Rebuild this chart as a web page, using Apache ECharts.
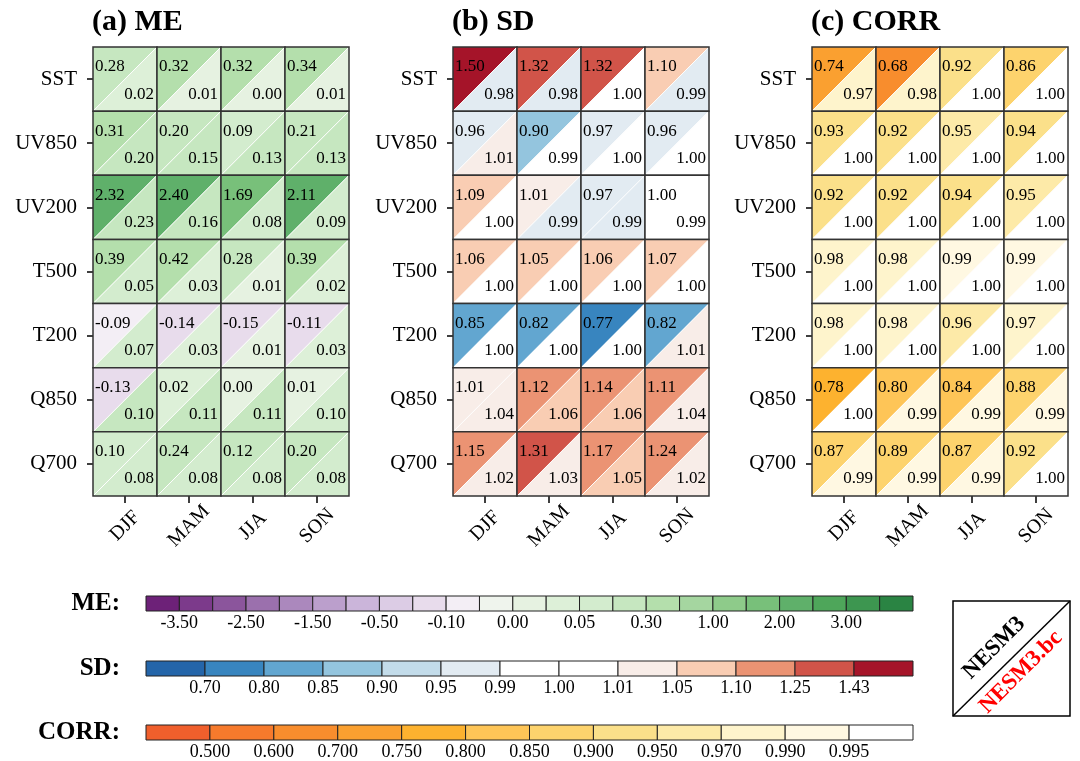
<!DOCTYPE html>
<html>
<head>
<meta charset="utf-8">
<script src="https://cdn.jsdelivr.net/npm/echarts@6/dist/echarts.min.js"></script>
<style>
  html, body { margin: 0; padding: 0; background: #fff; }
  #main { width: 1080px; height: 761px; }
</style>
</head>
<body>
<div id="main"></div>
<script>
const seasons = ['DJF', 'MAM', 'JJA', 'SON']
const variables = ['SST', 'UV850', 'UV200', 'T500', 'T200', 'Q850', 'Q700']

// upper-left triangle = NESM3, lower-right triangle = NESM3.bc
// (a few values carry a third decimal where the cell colour shows which side of a level it sits on)
const meModel = [
  [0.28, 0.32, 0.32, 0.34],
  [0.31, 0.20, 0.09, 0.21],
  [2.32, 2.40, 1.69, 2.11],
  [0.39, 0.42, 0.28, 0.39],
  [-0.09, -0.14, -0.15, -0.11],
  [-0.13, 0.02, 0.00, 0.01],
  [0.098, 0.24, 0.12, 0.20]
]
const meBc = [
  [0.02, 0.01, 0.00, 0.01],
  [0.20, 0.15, 0.13, 0.13],
  [0.23, 0.16, 0.08, 0.09],
  [0.05, 0.03, 0.01, 0.02],
  [0.07, 0.03, 0.01, 0.03],
  [0.10, 0.11, 0.11, 0.098],
  [0.08, 0.08, 0.08, 0.08]
]
const sdModel = [
  [1.50, 1.32, 1.32, 1.098],
  [0.96, 0.898, 0.97, 0.96],
  [1.09, 1.01, 0.97, 1.00],
  [1.06, 1.05, 1.06, 1.07],
  [0.848, 0.82, 0.77, 0.82],
  [1.01, 1.12, 1.14, 1.11],
  [1.15, 1.31, 1.17, 1.24]
]
const sdBc = [
  [0.98, 0.98, 1.00, 0.988],
  [1.01, 0.991, 1.00, 1.00],
  [1.00, 0.988, 0.988, 0.991],
  [1.00, 1.00, 1.00, 1.00],
  [1.00, 1.00, 1.00, 1.01],
  [1.04, 1.06, 1.06, 1.04],
  [1.02, 1.03, 1.05, 1.02]
]
const corrModel = [
  [0.74, 0.68, 0.92, 0.86],
  [0.93, 0.92, 0.95, 0.94],
  [0.92, 0.92, 0.94, 0.95],
  [0.98, 0.98, 0.99, 0.99],
  [0.98, 0.98, 0.96, 0.97],
  [0.78, 0.80, 0.84, 0.88],
  [0.87, 0.89, 0.87, 0.92]
]
const corrBc = [
  [0.97, 0.98, 1.00, 1.00],
  [1.00, 1.00, 1.00, 1.00],
  [1.00, 1.00, 1.00, 1.00],
  [1.00, 1.00, 1.00, 1.00],
  [1.00, 1.00, 1.00, 1.00],
  [1.00, 0.99, 0.99, 0.99],
  [0.99, 0.99, 0.99, 1.00]
]

// colour bar levels (bin edges)
const meLevels = [-3.5, -3.0, -2.5, -2.0, -1.5, -1.0, -0.5, -0.3, -0.1, -0.05, 0.0, 0.02, 0.05, 0.1, 0.3, 0.5, 1.0, 1.5, 2.0, 2.5, 3.0, 3.5]
const sdLevels = [0.70, 0.80, 0.85, 0.90, 0.95, 0.99, 1.00, 1.01, 1.05, 1.10, 1.25, 1.43]
const corrLevels = [0.500, 0.600, 0.700, 0.750, 0.800, 0.850, 0.900, 0.950, 0.970, 0.990, 0.995]

const meColors = ['#6d2178', '#7c3a8b', '#8b559c', '#9b70ad', '#ab88bd', '#bb9fcc', '#cbb5da', '#dccce5', '#e8dcec', '#f3eef5',
  '#eff4ed', '#e6f2e1', '#ddf0d8', '#d3ecce', '#c6e7c0', '#b4dfac', '#a5d6a0', '#8ecb8a', '#78c07a', '#5fb06a', '#4ea65a', '#3d9650', '#2a8443']
const sdColors = ['#2465a9', '#3885bf', '#62a6d0', '#94c5de', '#c3dcea', '#e2ebf2', '#ffffff', '#ffffff', '#f8ede8', '#f9cdb3', '#eb9373', '#d15449', '#a51429']
const corrColors = ['#f05f2c', '#f67a2c', '#f88d2d', '#faa030', '#fdb22f', '#fec557', '#fdd36d', '#fbe08a', '#fdeaa8', '#fef4cc', '#fff8e2', '#ffffff']

const FONT = '"Liberation Serif", "Times New Roman", serif'

const binColor = (v, levels, colors) => {
  let i = 0
  while (i < levels.length && v >= levels[i] - 1e-9) i++
  return colors[i]
}

const cellData = (upper, lower) => {
  const out = []
  upper.forEach((row, r) => {
    row.forEach((v, c) => {
      out.push([c, r, v, lower[r][c]])
    })
  })
  return out
}

const cellRenderer = (levels, colors) => (params, api) => {
  const c = api.coord([api.value(0), api.value(1)])
  const s = api.size([1, 1])
  const w = Math.abs(s[0])
  const h = Math.abs(s[1])
  const x0 = c[0] - w / 2
  const x1 = c[0] + w / 2
  const y0 = c[1] - h / 2
  const y1 = c[1] + h / 2
  const up = api.value(2)
  const lo = api.value(3)
  return {
    type: 'group',
    children: [
      { type: 'polygon', shape: { points: [[x0, y0], [x1, y0], [x0, y1]] }, style: { fill: binColor(up, levels, colors) } },
      { type: 'polygon', shape: { points: [[x1, y0], [x1, y1], [x0, y1]] }, style: { fill: binColor(lo, levels, colors) } },
      { type: 'line', shape: { x1: x0, y1: y1, x2: x1, y2: y0 }, style: { stroke: '#fff', lineWidth: 1 } },
      { type: 'rect', shape: { x: x0, y: y0, width: w, height: h }, style: { fill: 'none', stroke: '#333', lineWidth: 1.5 } },
      { type: 'text', x: x0 + 2, y: y0 + 20, style: { text: up.toFixed(2), font: '17px ' + FONT, fill: '#000', align: 'left', verticalAlign: 'middle' } },
      { type: 'text', x: x1 - 3, y: y1 - 17, style: { text: lo.toFixed(2), font: '17px ' + FONT, fill: '#000', align: 'right', verticalAlign: 'middle' } }
    ]
  }
}

const barRenderer = (colors) => (params, api) => {
  const i = api.value(0)
  const p0 = api.coord([i, 1])
  const p1 = api.coord([i + 1, 0])
  return {
    type: 'rect',
    shape: { x: p0[0], y: p0[1], width: p1[0] - p0[0], height: p1[1] - p0[1] },
    style: { fill: colors[i], stroke: '#222', lineWidth: 1 }
  }
}

const panelLefts = [93, 453, 812]
const barTops = [596, 661, 725]

const grids = panelLefts.map(l => ({ left: l, top: 47, width: 256, height: 449 }))
  .concat(barTops.map(t => ({ left: 146, top: t, width: 767, height: 15 })))

const xAxes = [0, 1, 2].map(i => ({
  type: 'category',
  gridIndex: i,
  data: seasons,
  axisLine: { show: false },
  axisTick: { show: true, alignWithLabel: true, length: 7, interval: 0, lineStyle: { color: '#000', width: 1.5 } },
  axisLabel: { interval: 0, rotate: 45, margin: 30, align: 'center', verticalAlign: 'middle', fontSize: 20, fontFamily: FONT, color: '#000' },
  splitLine: { show: false }
}))
const yAxes = [0, 1, 2].map(i => ({
  type: 'category',
  gridIndex: i,
  data: variables,
  inverse: true,
  axisLine: { show: false },
  axisTick: { show: true, alignWithLabel: true, length: 6, interval: 0, lineStyle: { color: '#000', width: 1.5 } },
  axisLabel: { interval: 0, margin: 16, fontSize: 21, fontFamily: FONT, color: '#000' },
  splitLine: { show: false }
}))

const barSpecs = [
  { levels: meLevels, colors: meColors, fmt: (v, k) => (k % 2 === 0 ? v.toFixed(2) : '') },
  { levels: sdLevels, colors: sdColors, fmt: v => v.toFixed(2) },
  { levels: corrLevels, colors: corrColors, fmt: v => v.toFixed(3) }
]
barSpecs.forEach((b, j) => {
  xAxes.push({
    type: 'value',
    gridIndex: 3 + j,
    min: 0,
    max: b.colors.length,
    interval: 1,
    axisLine: { show: false },
    axisTick: { show: false },
    splitLine: { show: false },
    axisLabel: {
      margin: 3,
      fontSize: 18,
      fontFamily: FONT,
      color: '#000',
      formatter: function (v) {
        const k = Math.round(v) - 1
        if (k < 0 || k >= b.levels.length) return ''
        return b.fmt(b.levels[k], k)
      }
    }
  })
  yAxes.push({ type: 'value', gridIndex: 3 + j, min: 0, max: 1, show: false })
})

const series = [
  { type: 'custom', xAxisIndex: 0, yAxisIndex: 0, renderItem: cellRenderer(meLevels, meColors), data: cellData(meModel, meBc) },
  { type: 'custom', xAxisIndex: 1, yAxisIndex: 1, renderItem: cellRenderer(sdLevels, sdColors), data: cellData(sdModel, sdBc) },
  { type: 'custom', xAxisIndex: 2, yAxisIndex: 2, renderItem: cellRenderer(corrLevels, corrColors), data: cellData(corrModel, corrBc) }
]
barSpecs.forEach((b, j) => {
  series.push({
    type: 'custom',
    xAxisIndex: 3 + j,
    yAxisIndex: 3 + j,
    renderItem: barRenderer(b.colors),
    data: b.colors.map((c, i) => [i])
  })
})

const titleText = (txt, x) => ({
  type: 'text', x: x, y: 22,
  style: { text: txt, font: 'bold 30px ' + FONT, fill: '#000', align: 'left', verticalAlign: 'middle' }
})
const barLabel = (txt, y) => ({
  type: 'text', x: 120, y: y,
  style: { text: txt, font: 'bold 25px ' + FONT, fill: '#000', align: 'right', verticalAlign: 'middle' }
})

const option = {
  backgroundColor: '#fff',
  animation: false,
  grid: grids,
  xAxis: xAxes,
  yAxis: yAxes,
  series: series,
  graphic: [
    titleText('(a) ME', 92),
    titleText('(b) SD', 452),
    titleText('(c) CORR', 811),
    barLabel('ME:', 604),
    barLabel('SD:', 669),
    barLabel('CORR:', 733),
    {
      type: 'group',
      children: [
        { type: 'rect', shape: { x: 953, y: 601, width: 117, height: 115 }, style: { fill: '#fff', stroke: '#000', lineWidth: 1.5 } },
        { type: 'line', shape: { x1: 953, y1: 716, x2: 1070, y2: 601 }, style: { stroke: '#000', lineWidth: 1.5 } },
        { type: 'text', x: 994, y: 648, rotation: Math.PI / 4, style: { text: 'NESM3', font: 'bold 23px ' + FONT, fill: '#000', align: 'center', verticalAlign: 'middle' } },
        { type: 'text', x: 1021, y: 672, rotation: Math.PI / 4, style: { text: 'NESM3.bc', font: 'bold 23px ' + FONT, fill: '#ff0000', align: 'center', verticalAlign: 'middle' } }
      ]
    }
  ]
}

const myChart = echarts.init(document.getElementById('main'))
myChart.setOption(option)

window.onresize = function () {
  myChart.resize()
}
</script>
</body>
</html>
